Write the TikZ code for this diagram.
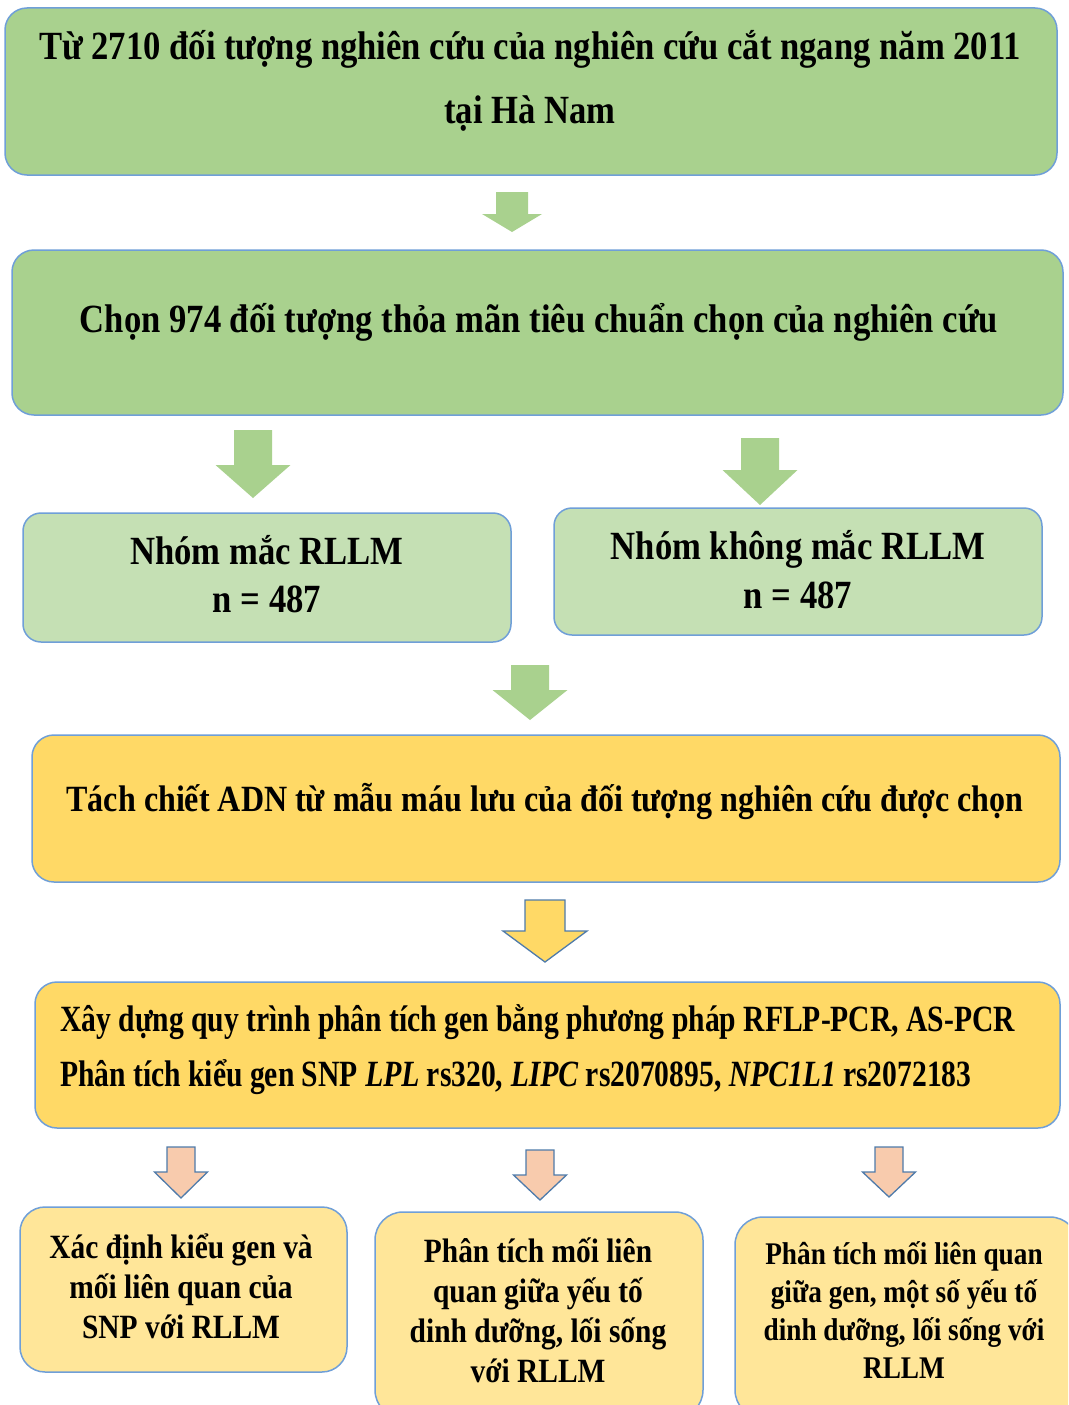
\documentclass[tikz,border=0pt]{standalone}
\usepackage{fontspec}
\setmainfont{Liberation Serif}
\newfontfamily\fA{Liberation Serif}[FakeStretch=0.866]
\newfontfamily\fB{Liberation Serif}[FakeStretch=0.80]
\definecolor{gA}{HTML}{A9D18E}
\definecolor{gB}{HTML}{C5E0B4}
\definecolor{yA}{HTML}{FFD966}
\definecolor{yB}{HTML}{FFE699}
\definecolor{pk}{HTML}{F8CBAD}
\definecolor{bd}{HTML}{6F9FD8}
\definecolor{ad}{HTML}{4F7BAA}
\newcommand\blkarrow[7]{%
  \draw[#1] ({#2-#3/2},#5) -- ({#2+#3/2},#5) -- ({#2+#3/2},#6) -- ({#2+#4/2},#6)
    -- (#2,#7) -- ({#2-#4/2},#6) -- ({#2-#3/2},#6) -- cycle;}
\tikzset{
  box/.style={draw=bd, line width=1.5pt, rounded corners=22pt, inner sep=0pt},
  txtA/.style={align=center, inner sep=0pt, font=\fA\bfseries\fontsize{40}{64}\selectfont},
  txtD/.style={align=center, inner sep=0pt, font=\fA\bfseries\fontsize{37}{55}\selectfont},
  txtB/.style={align=center, inner sep=0pt, font=\fB\bfseries\fontsize{37}{55}\selectfont},
  txtC/.style={align=center, inner sep=0pt, font=\fA\bfseries\fontsize{34}{40}\selectfont},
  garr/.style={fill=gA, draw=none},
  yarr/.style={fill=yA, draw=ad, line width=1.3pt},
  parr/.style={fill=pk, draw=ad, line width=1.3pt},
}
\begin{document}
\begin{tikzpicture}[x=1pt,y=-1pt]
\useasboundingbox (0,0) rectangle (1068,1405);
\clip (0,0) rectangle (1068,1405);
\fill[white] (0,0) rectangle (1068,1405);
% boxes
\node[box, fill=gA, minimum width=1052pt, minimum height=167pt] (b1) at (531,91.5) {};
\node[box, fill=gA, minimum width=1051pt, minimum height=165pt] (b2) at (537.5,332.5) {};
\node[box, fill=gB, minimum width=488pt, minimum height=129pt, rounded corners=18pt] (b3l) at (267,577.5) {};
\node[box, fill=gB, minimum width=488pt, minimum height=127pt, rounded corners=18pt] (b3r) at (798,571.5) {};
\node[box, fill=yA, minimum width=1028pt, minimum height=147pt] (b4) at (546,808.5) {};
\node[box, fill=yA, minimum width=1025pt, minimum height=146pt] (b5) at (547.5,1055) {};
\node[box, fill=yB, minimum width=327pt, minimum height=165pt, rounded corners=25pt] (c1) at (183.5,1289.5) {};
\node[box, fill=yB, minimum width=328pt, minimum height=206pt, rounded corners=28pt] (c2) at (539,1315) {};
\node[box, fill=yB, minimum width=343pt, minimum height=201pt, rounded corners=28pt] (c3) at (906.5,1317.5) {};
% texts
\node[txtA] (t1) at (530,81) {Từ 2710 đối tượng nghiên cứu của nghiên cứu cắt ngang năm 2011\\tại Hà Nam};
\node[txtA] (t2) at (539,322) {Chọn 974 đối tượng thỏa mãn tiêu chuẩn chọn của nghiên cứu};
\node[txtA, font=\fA\bfseries\fontsize{40}{48}\selectfont] (t3l) at (267,574) {Nhóm mắc RLLM\\n = 487};
\node[txtA, font=\fA\bfseries\fontsize{40}{49}\selectfont] (t3r) at (798,570) {Nhóm không mắc RLLM\\n = 487};
\node[txtD] (t4) at (545,801) {Tách chiết ADN từ mẫu máu lưu của đối tượng nghiên cứu được chọn};
\node[txtB, align=left, anchor=west] (t5) at (60,1050) {Xây dựng quy trình phân tích gen bằng phương pháp RFLP-PCR, AS-PCR\\Phân tích kiểu gen SNP \textit{LPL} rs320, \textit{LIPC} rs2070895, \textit{NPC1L1} rs2072183};
\node[txtC] (u1) at (181,1286) {Xác định kiểu gen và\\mối liên quan của\\SNP với RLLM};
\node[txtC] (u2) at (538,1310) {Phân tích mối liên\\quan giữa yếu tố\\dinh dưỡng, lối sống\\với RLLM};
\node[txtC, font=\fA\bfseries\fontsize{31.5}{38}\selectfont] (u3) at (904,1310) {Phân tích mối liên quan\\giữa gen, một số yếu tố\\dinh dưỡng, lối sống với\\RLLM};
% arrows
\blkarrow{garr}{512}{32}{60}{192}{214}{232}
\blkarrow{garr}{253}{38}{75}{430}{465}{498}
\blkarrow{garr}{760}{38}{75}{438}{470}{505}
\blkarrow{garr}{530}{38}{75}{665}{690}{720}
\blkarrow{yarr}{545}{40}{84}{900}{931}{962}
\blkarrow{parr}{181}{28}{53}{1147}{1172}{1198}
\blkarrow{parr}{540}{28}{53}{1150}{1175}{1200}
\blkarrow{parr}{889}{28}{53}{1147}{1172}{1197}
\end{tikzpicture}
\end{document}
